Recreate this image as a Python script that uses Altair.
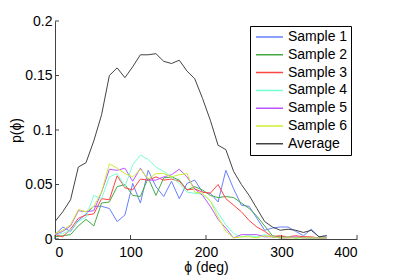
import altair as alt
import pandas as pd

x_deg = [0, 10.3, 20.6, 30.9, 41.1, 51.4, 61.7, 72.0, 82.3, 92.6, 102.9, 113.1,
         123.4, 133.7, 144.0, 154.3, 164.6, 174.9, 185.1, 195.4, 205.7, 216.0,
         226.3, 236.6, 246.9, 257.1, 267.4, 277.7, 288.0, 298.3, 308.6, 318.9,
         329.1, 339.4, 349.7, 360.0]

sample1 = [0.004, 0.011, 0.007, 0.017, 0.023, 0.030, 0.030, 0.028, 0.016, 0.022, 0.051, 0.033,
           0.063, 0.048, 0.039, 0.053, 0.037, 0.051, 0.054, 0.043, 0.042, 0.034, 0.063, 0.046,
           0.031, 0.030, 0.019, 0.008, 0.010, 0.011, 0.011, 0.007, 0.003, 0.009, 0.002, 0.003]
sample2 = [0.002, 0.003, 0.004, 0.012, 0.018, 0.012, 0.033, 0.034, 0.048, 0.050, 0.040, 0.039,
           0.056, 0.040, 0.056, 0.057, 0.054, 0.045, 0.048, 0.045, 0.040, 0.038, 0.039, 0.038,
           0.033, 0.028, 0.021, 0.012, 0.003, 0.002, 0.002, 0.001, 0.002, 0.001, 0.001, 0.001]
sample3 = [0.004, 0.002, 0.009, 0.019, 0.022, 0.023, 0.037, 0.036, 0.058, 0.047, 0.045, 0.055,
           0.054, 0.057, 0.054, 0.055, 0.053, 0.045, 0.046, 0.043, 0.042, 0.050, 0.037, 0.031,
           0.025, 0.017, 0.011, 0.007, 0.002, 0.003, 0.002, 0.003, 0.002, 0.002, 0.001, 0.001]
sample4 = [0.004, 0.005, 0.008, 0.016, 0.020, 0.040, 0.037, 0.057, 0.060, 0.048, 0.068, 0.077,
           0.073, 0.066, 0.062, 0.057, 0.051, 0.043, 0.042, 0.041, 0.035, 0.024, 0.013, 0.005,
           0.002, 0.003, 0.002, 0.004, 0.002, 0.001, 0.002, 0.001, 0.001, 0.001, 0.001, 0.001]
sample5 = [0.004, 0.007, 0.012, 0.026, 0.025, 0.026, 0.043, 0.064, 0.063, 0.065, 0.053, 0.065,
           0.054, 0.054, 0.057, 0.059, 0.064, 0.057, 0.046, 0.040, 0.030, 0.018, 0.010, 0.001,
           0.004, 0.004, 0.004, 0.002, 0.002, 0.001, 0.001, 0.002, 0.001, 0.001, 0.001, 0.001]
sample6 = [0.005, 0.008, 0.013, 0.027, 0.025, 0.030, 0.043, 0.069, 0.065, 0.060, 0.057, 0.064,
           0.055, 0.060, 0.060, 0.057, 0.059, 0.060, 0.043, 0.042, 0.035, 0.020, 0.007, 0.001,
           0.002, 0.002, 0.001, 0.003, 0.002, 0.001, 0.001, 0.001, 0.001, 0.001, 0.001, 0.001]
average = [0.016, 0.025, 0.036, 0.066, 0.070, 0.090, 0.114, 0.150, 0.157, 0.148, 0.158, 0.169,
           0.169, 0.170, 0.163, 0.161, 0.164, 0.154, 0.147, 0.129, 0.109, 0.086, 0.082, 0.062,
           0.050, 0.040, 0.028, 0.016, 0.011, 0.008, 0.009, 0.008, 0.006, 0.008, 0.002, 0.003]

series_names = ["Sample 1", "Sample 2", "Sample 3", "Sample 4", "Sample 5", "Sample 6", "Average"]
series_values = [sample1, sample2, sample3, sample4, sample5, sample6, average]
series_colors = ["#6680ff", "#44aa44", "#ff4444", "#77ffd4", "#bb55ff", "#ccee33", "#444444"]

x_ticks = [0, 100, 200, 300, 400]
y_ticks = [0, 0.05, 0.1, 0.15, 0.2]

rows = []
for name, vals in zip(series_names, series_values):
    for xv, yv in zip(x_deg, vals):
        rows.append({"phi": xv, "p": yv, "series": name})
df = pd.DataFrame(rows)

FONT = "Liberation Sans"
W, H = 302, 218

xscale = alt.Scale(domain=[0, 400], nice=False)
yscale = alt.Scale(domain=[0, 0.2], nice=False)

lines = alt.Chart(df).mark_line(strokeWidth=1, clip=True).encode(
    x=alt.X("phi:Q", scale=xscale,
            axis=alt.Axis(title="ϕ (deg)", values=x_ticks, ticks=False, grid=False,
                          labelPadding=6, titlePadding=1)),
    y=alt.Y("p:Q", scale=yscale,
            axis=alt.Axis(title="p(ϕ)", values=y_ticks, format=".2~f", ticks=False,
                          grid=False, labelPadding=3, titlePadding=1)),
    color=alt.Color("series:N",
                    scale=alt.Scale(domain=series_names, range=series_colors),
                    legend=alt.Legend(title=None, orient="none", legendX=195, legendY=5,
                                      symbolType="stroke", symbolSize=729,
                                      symbolStrokeWidth=1.5, clipHeight=16,
                                      rowPadding=1.8, padding=3, symbolOffset=2,
                                      labelOffset=4, labelFontSize=14, labelFont=FONT,
                                      labelColor="black",
                                      strokeColor="black", fillColor="white")),
    detail="series:N",
)

xtick_df = pd.DataFrame({"t": x_ticks})
ytick_df = pd.DataFrame({"t": y_ticks})

xtick_rules = alt.Chart(xtick_df).mark_rule(color="#444444", strokeWidth=1).encode(
    x=alt.X("t:Q", scale=xscale), y=alt.value(H), y2=alt.value(H - 4))
ytick_rules = alt.Chart(ytick_df).mark_rule(color="#444444", strokeWidth=1).encode(
    y=alt.Y("t:Q", scale=yscale), x=alt.value(0), x2=alt.value(4))

chart = alt.layer(lines, xtick_rules, ytick_rules).properties(
    width=W, height=H,
    autosize=alt.AutoSizeParams(type="none"),
    padding={"left": 47, "top": 13, "right": 30, "bottom": 38},
).configure_view(stroke=None).configure_axis(
    domainColor="#444444", labelFont=FONT, labelFontSize=14, labelColor="black",
    titleFont=FONT, titleFontSize=14, titleFontWeight="normal", titleColor="black",
)

chart.save("out.html", embed_options={"renderer": "svg", "actions": False})
